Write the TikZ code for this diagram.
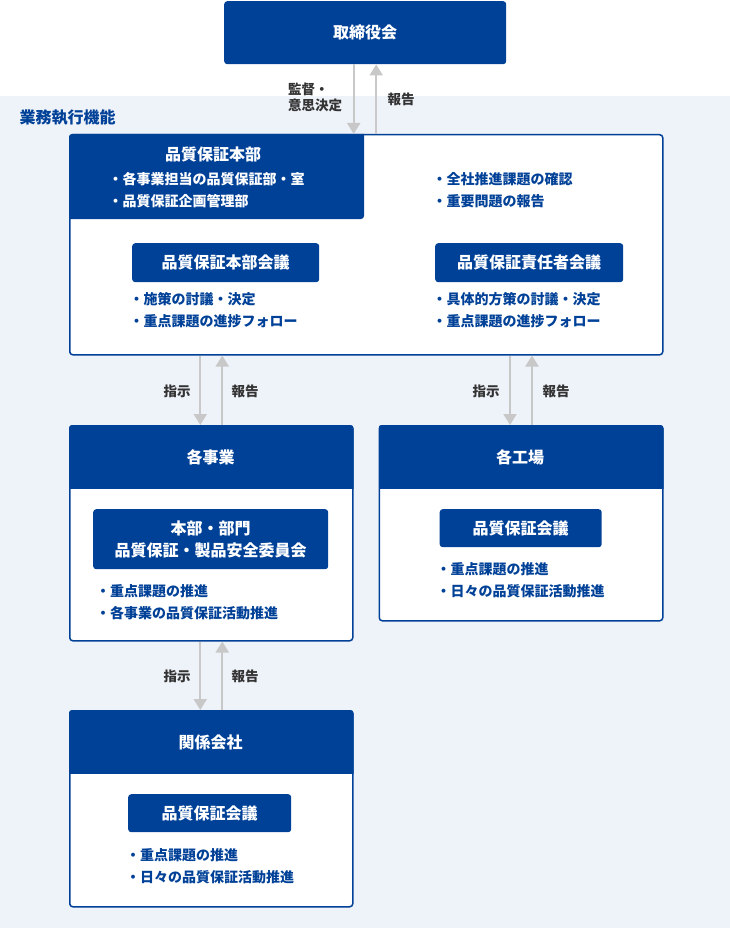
\documentclass[tikz,border=0pt]{standalone}
\usepackage{fontspec}
\setmainfont{Noto Sans CJK JP}
\usetikzlibrary{arrows.meta}
\definecolor{qblue}{RGB}{0,65,152}
\definecolor{bgblue}{RGB}{238,242,249}
\definecolor{arrgray}{RGB}{200,200,200}
\definecolor{lblgray}{RGB}{51,51,51}
\tikzset{
	panel/.style={draw=qblue, line width=1.5pt, fill=white, rounded corners=3pt, anchor=north west, inner sep=0pt},
	block/.style={fill=qblue, rounded corners=3pt, anchor=north west, inner sep=0pt, text=white, align=center, font=\fontsize{16}{22}\selectfont\bfseries},
	head/.style={inner sep=0pt, text=white, font=\fontsize{16}{22}\selectfont\bfseries},
	list/.style={anchor=west, inner sep=0pt, align=left, text=qblue, font=\fontsize{14}{22}\selectfont\bfseries},
	lbl/.style={inner sep=0pt, align=left, text=lblgray, font=\fontsize{13.5}{16}\selectfont\bfseries},
	dn/.style={arrgray, line width=2pt, -{Triangle[width=13pt,length=11pt]}},
}

\begin{document}
\begin{tikzpicture}[x=1pt,y=1pt,yscale=-1]
		\useasboundingbox (0,0) rectangle (730,928);
		\fill[bgblue] (0,96) rectangle (730,928);
		\node[anchor=west, inner sep=0pt, text=qblue, font=\fontsize{16}{18}\selectfont\bfseries] (exec) at (19.5,118) {業務執行機能};
		% top
		\node[block, minimum width=282, minimum height=63] (board) at (224,1) {取締役会};
		% panels
		\node[panel, minimum width=593, minimum height=220] (hq) at (69,134) {};
		\node[panel, minimum width=283, minimum height=215] (biz) at (69,425) {};
		\node[panel, minimum width=283.5, minimum height=195] (plant) at (378.5,425) {};
		\node[panel, minimum width=283, minimum height=196] (aff) at (69,710) {};
		\begin{scope}
			\clip[rounded corners=3pt] (hq.north west) rectangle (hq.south east);
			\fill[qblue, rounded corners=3pt] (60,125) rectangle (364,219);
		\end{scope}
		\foreach \n in {biz,plant,aff}{
			\begin{scope}
				\clip[rounded corners=3pt] (\n.north west) rectangle (\n.south east);
				\fill[qblue] (\n.north west) rectangle ([yshift=64pt]\n.north east);
			\end{scope}
		}
		% headings
		\node[head] (hqT) at (213,154) {品質保証本部};
		\node[head] (bizT) at (210.5,457) {各事業};
		\node[head] (plantT) at (520,457) {各工場};
		\node[head] (affT) at (210.5,742) {関係会社};
		% meetings
		\node[block, minimum width=187, minimum height=39] (hqM) at (132,243) {品質保証本部会議};
		\node[block, minimum width=188, minimum height=39] (hqR) at (435,243) {品質保証責任者会議};
		\node[block, minimum width=235, minimum height=60] (bizM) at (93,509) {本部・部門\\品質保証・製品安全委員会};
		\node[block, minimum width=162, minimum height=38] (plantM) at (439.5,509) {品質保証会議};
		\node[block, minimum width=163, minimum height=38] (affM) at (128,794) {品質保証会議};
		% lists
		\node[list, text=white] (hqL) at (108.5,190) {・各事業担当の品質保証部・室\\・品質保証企画管理部};
		\node[list] (hqL2) at (432.5,190) {・全社推進課題の確認\\・重要問題の報告};
		\node[list] (hqML) at (129.5,310) {・施策の討議・決定\\・重点課題の進捗フォロー};
		\node[list] (hqRL) at (432.5,310) {・具体的方策の討議・決定\\・重点課題の進捗フォロー};
		\node[list] (bizL) at (96,602.5) {・重点課題の推進\\・各事業の品質保証活動推進};
		\node[list] (plantL) at (436.5,580.5) {・重点課題の推進\\・日々の品質保証活動推進};
		\node[list] (affL) at (126,866) {・重点課題の推進\\・日々の品質保証活動推進};
		% arrows
		\draw[dn] ([xshift=-11.5pt]board.south) -- ([xshift=-11.5pt]board.south |- hq.north);
		\draw[dn] ([xshift=11pt]board.south |- hq.north) -- ([xshift=11pt]board.south);
		\foreach \b/\t in {hq/biz, hq/plant, biz/aff}{
			\draw[dn] ([xshift=-11pt]\t.north |- \b.south) -- ([xshift=-11pt]\t.north);
			\draw[dn] ([xshift=11pt]\t.north) -- ([xshift=11pt]\t.north |- \b.south);
		}
		% arrow labels
		\node[lbl, anchor=west] (boardIn) at (288,97) {監督・\\意思決定};
		\node[lbl, anchor=west] (boardOut) at (387.5,99) {報告};
		\node[lbl] (bizIn) at (177,391) {指示};
		\node[lbl] (bizOut) at (245,391) {報告};
		\node[lbl] (plantIn) at (486,391) {指示};
		\node[lbl] (plantOut) at (556,391) {報告};
		\node[lbl] (affIn) at (177,676) {指示};
		\node[lbl] (affOut) at (245,676) {報告};
\end{tikzpicture}
\end{document}
